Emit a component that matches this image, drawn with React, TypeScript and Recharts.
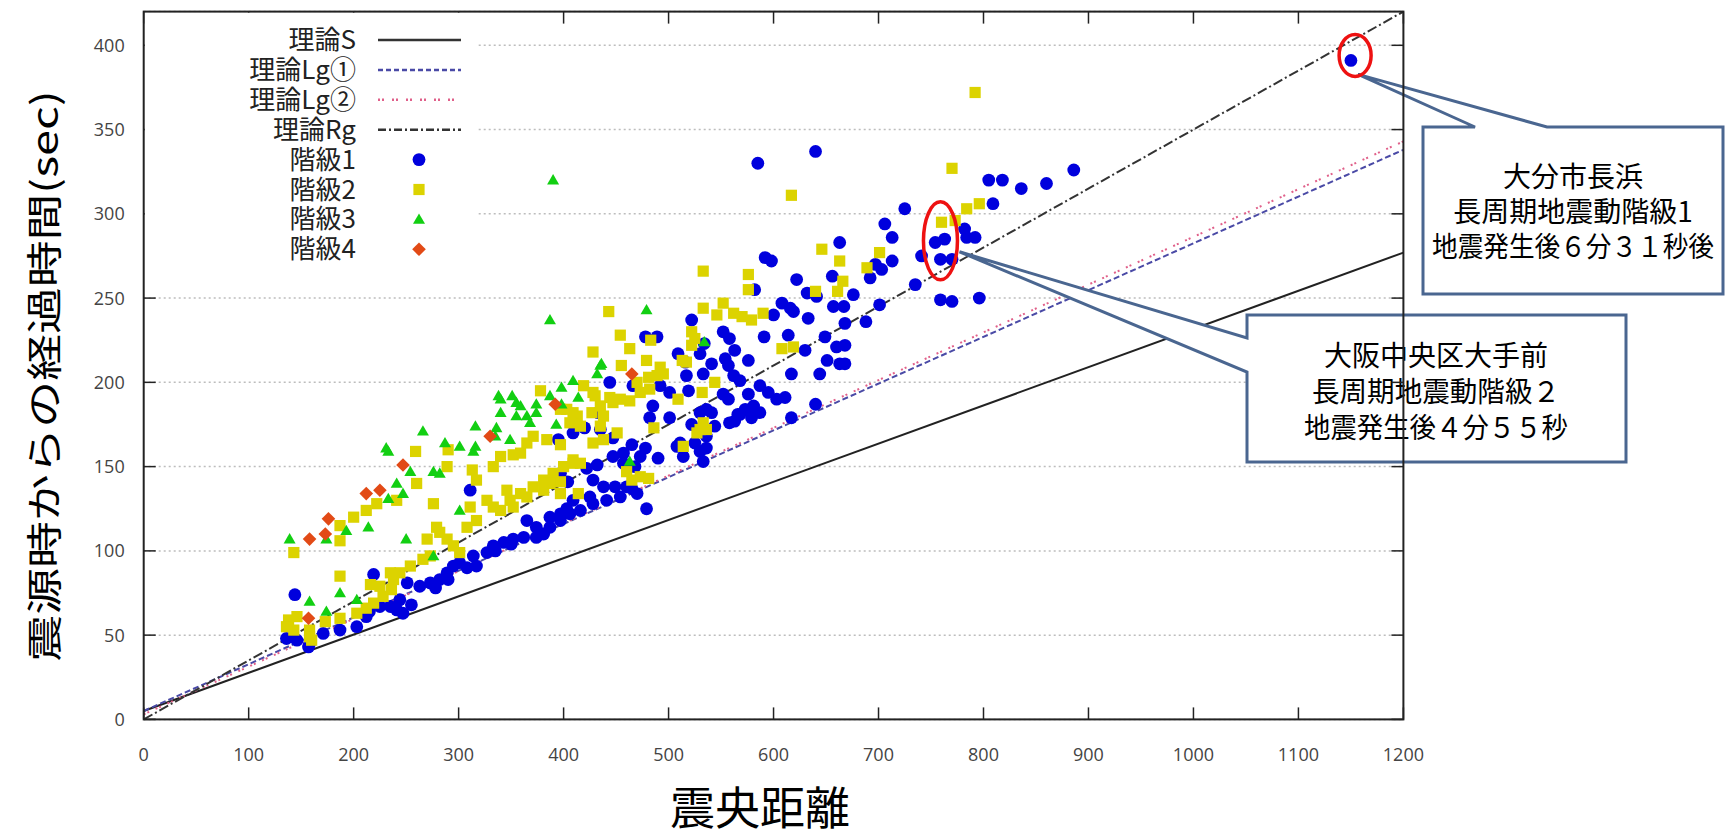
import React from 'react';
import { ScatterChart, Scatter, XAxis, YAxis, CartesianGrid, ReferenceDot } from 'recharts';

// axis ticks
const X_TICKS = [0, 100, 200, 300, 400, 500, 600, 700, 800, 900, 1000, 1100, 1200];
const Y_TICKS = [0, 50, 100, 150, 200, 250, 300, 350, 400];

// theoretical arrival lines [distance, seconds]
const THEORY_S = [[0, 5], [1200, 277]];
const THEORY_LG1 = [[0, 5], [1200, 338]];
const THEORY_LG2 = [[0, 3], [1200, 343]];
const THEORY_RG = [[0, 0], [1200, 420]];

// observed points [distance, seconds]
const CLASS1 = [
  [1150, 391], [886, 326], [805, 320], [818, 320], [836, 315], [860, 318], [809, 306], [725, 303], [782, 291], [792, 286],
  [784, 286], [754, 283], [763, 285], [741, 275], [759, 273], [770, 273], [735, 258], [759, 249], [770, 248], [796, 250],
  [585, 330], [640, 337], [706, 294], [713, 286], [663, 283], [592, 274], [598, 272], [713, 272], [697, 270], [703, 267],
  [692, 262], [622, 261], [656, 263], [582, 255], [632, 253], [641, 251], [676, 252], [701, 246], [657, 245], [667, 245],
  [608, 247], [616, 244], [619, 242], [633, 238], [522, 237], [600, 240], [668, 235], [688, 236], [478, 227], [489, 227],
  [552, 230], [558, 226], [563, 219], [591, 227], [614, 228], [649, 227], [668, 222], [660, 221], [630, 219], [534, 223],
  [509, 217], [516, 212], [530, 217], [541, 211], [533, 205], [554, 214], [557, 210], [576, 213], [651, 213], [663, 211],
  [668, 211], [617, 205], [644, 205], [562, 204], [568, 201], [517, 204], [492, 198], [501, 194], [519, 195], [536, 184],
  [541, 182], [530, 182], [552, 193], [557, 190], [576, 193], [587, 198], [595, 194], [603, 190], [611, 191], [573, 184],
  [566, 181], [563, 177], [579, 179], [587, 182], [617, 179], [640, 187], [485, 186], [482, 179], [501, 179], [522, 175],
  [544, 174], [558, 176], [568, 181], [581, 186], [536, 168], [444, 200], [466, 198], [420, 173], [447, 167], [435, 172],
  [433, 182], [395, 166], [409, 170], [465, 163], [478, 161], [473, 156], [490, 155], [508, 162], [511, 164], [525, 164],
  [530, 159], [533, 153], [536, 161], [447, 156], [457, 158], [457, 152], [468, 150], [432, 151], [422, 149], [514, 156],
  [428, 142], [438, 138], [449, 138], [465, 137], [470, 134], [397, 146], [404, 141], [409, 130], [403, 125], [416, 124],
  [397, 122], [479, 125], [460, 138], [454, 132], [441, 130], [428, 128], [406, 122], [397, 118], [387, 114], [381, 110],
  [393, 142], [425, 132], [387, 120], [374, 114], [365, 118], [374, 108], [362, 108], [352, 107], [343, 105], [333, 103],
  [327, 99], [314, 97], [301, 93], [317, 91], [308, 90], [295, 91], [289, 87], [282, 83], [273, 81], [263, 79],
  [251, 81], [244, 71], [241, 65], [247, 63], [235, 67], [225, 67], [144, 74], [136, 48], [146, 47], [157, 43],
  [171, 51], [187, 53], [203, 55], [212, 61], [158, 45], [219, 86], [311, 136], [215, 64], [255, 68], [278, 78],
  [290, 83], [335, 100], [350, 104],
];
const CLASS2 = [
  [792, 372], [770, 327], [784, 303], [796, 306], [760, 295], [773, 296], [617, 311], [646, 279], [701, 277], [663, 272],
  [689, 268], [533, 266], [576, 264], [666, 260], [576, 255], [661, 254], [640, 254], [562, 241], [570, 239], [579, 237],
  [590, 241], [533, 244], [552, 247], [546, 240], [443, 242], [454, 228], [463, 220], [428, 218], [483, 225], [522, 230],
  [525, 226], [522, 222], [608, 220], [619, 221], [479, 213], [492, 209], [489, 204], [495, 205], [517, 212], [513, 213],
  [544, 200], [470, 200], [481, 203], [532, 194], [509, 190], [428, 194], [444, 191], [454, 190], [435, 186], [427, 182],
  [473, 194], [482, 196], [533, 176], [527, 170], [536, 172], [486, 173], [435, 174], [428, 164], [514, 162], [460, 147],
  [473, 144], [481, 143], [465, 142], [409, 154], [400, 150], [414, 134], [397, 141], [455, 210], [419, 198], [430, 192],
  [378, 195], [403, 184], [413, 180], [438, 180], [447, 188], [451, 170], [397, 184], [409, 182], [463, 189], [259, 159],
  [290, 160], [371, 168], [384, 166], [397, 163], [406, 176], [416, 174], [438, 166], [530, 172], [273, 97], [270, 107],
  [279, 114], [282, 111], [289, 107], [295, 103], [301, 99], [308, 114], [317, 118], [333, 126], [340, 124], [349, 130],
  [359, 134], [371, 138], [381, 142], [390, 146], [409, 152], [416, 152], [387, 140], [381, 136], [397, 134], [365, 132],
  [352, 126], [327, 130], [346, 136], [276, 128], [311, 126], [212, 124], [200, 120], [187, 115], [222, 128], [241, 130],
  [260, 140], [289, 150], [313, 148], [317, 142], [333, 150], [340, 156], [352, 157], [365, 164], [359, 158], [138, 59],
  [143, 53], [158, 53], [158, 49], [146, 61], [173, 58], [187, 60], [203, 63], [212, 66], [219, 69], [228, 73],
  [236, 77], [238, 83], [244, 87], [254, 91], [266, 95], [187, 85], [216, 80], [225, 79], [235, 87], [187, 106],
  [143, 99], [136, 55], [160, 47],
];
const CLASS3 = [
  [390, 320], [387, 237], [479, 243], [534, 224], [435, 210], [409, 201], [432, 205], [398, 197], [414, 191], [436, 211],
  [340, 190], [355, 188], [374, 187], [340, 182], [365, 180], [374, 182], [266, 171], [316, 174], [336, 173], [335, 168],
  [233, 159], [287, 164], [301, 162], [314, 159], [463, 153], [338, 192], [351, 192], [359, 186], [387, 192], [398, 187],
  [355, 180], [393, 175], [368, 176], [316, 162], [349, 166], [231, 161], [250, 107], [276, 97], [301, 124], [214, 114],
  [193, 112], [174, 107], [139, 107], [247, 134], [233, 131], [254, 147], [241, 140], [276, 147], [282, 146], [158, 70],
  [174, 64], [187, 75], [203, 71],
];
const CLASS4 = [
  [158, 107], [173, 110], [176, 119], [212, 134], [225, 136], [247, 151], [330, 168], [392, 187], [465, 205], [157, 60],
];

const toXY = (arr: number[][]) => arr.map(([x, y]) => ({ x, y }));

// layout
const W = 1733;
const H = 837;
const LEFT = 143.7;
const RIGHT = 1403.4;
const TOP = 11.6;
const BOTTOM = 719.4;
const FRAME = '#222';
const JP = '"Noto Sans CJK JP", "Noto Sans", sans-serif';
const NUM = '"Open Sans", "Noto Sans", sans-serif';

const COLORS = { c1: '#0000dd', c2: '#dcd300', c3: '#12cf12', c4: '#e24a16' };

const Marker = ({ kind, cx, cy }: { kind: string; cx: number; cy: number }) => {
  if (kind === 'c1') return <circle cx={cx} cy={cy} r={6.4} fill={COLORS.c1} />;
  if (kind === 'c2') return <rect x={cx - 5.6} y={cy - 5.6} width={11.2} height={11.2} fill={COLORS.c2} />;
  if (kind === 'c3')
    return <polygon points={`${cx},${cy - 6} ${cx + 6},${cy + 4.3} ${cx - 6},${cy + 4.3}`} fill={COLORS.c3} />;
  return <polygon points={`${cx},${cy - 6.8} ${cx + 6.8},${cy} ${cx},${cy + 6.8} ${cx - 6.8},${cy}`} fill={COLORS.c4} />;
};

const shapeFor = (kind: string) => (p: any) => <Marker kind={kind} cx={p.cx} cy={p.cy} />;
const noShape = () => <g />;

const XTick = ({ x, payload }: any) => (
  <g>
    <line x1={x} x2={x} y1={BOTTOM} y2={BOTTOM - 12} stroke={FRAME} strokeWidth={1.5} />
    <line x1={x} x2={x} y1={TOP} y2={TOP + 12} stroke={FRAME} strokeWidth={1.5} />
    <text x={x} y={BOTTOM + 42} textAnchor="middle" fontSize={18} fontFamily={NUM} fill="#444">
      {payload.value}
    </text>
  </g>
);

const YTick = ({ y, payload }: any) => (
  <g>
    <line x1={LEFT} x2={LEFT + 12} y1={y} y2={y} stroke={FRAME} strokeWidth={1.5} />
    <line x1={RIGHT - 12} x2={RIGHT} y1={y} y2={y} stroke={FRAME} strokeWidth={1.5} />
    <text x={LEFT - 19} y={y + 6.5} textAnchor="end" fontSize={18} fontFamily={NUM} fill="#444">
      {payload.value}
    </text>
  </g>
);

const BUBBLE = '#4a6690';

// callout anchored on the ringed station (ellipse centre in data units)
const CALLOUT_OITA = { x: 1154, y: 394 };
const CALLOUT_OSAKA = { x: 759, y: 284 };

const OitaShape = ({ cx, cy }: any) => {
  const tx = cx + 3;
  const ty = cy + 19;
  return (
    <g>
      <path
        d={`M1423,127 L1475,127 L${tx},${ty} L1547,127 L1723,127 L1723,294 L1423,294 Z`}
        fill="#fff"
        stroke={BUBBLE}
        strokeWidth={3}
      />
      <g fontFamily={JP} fontSize={28} fill="#000" textAnchor="middle">
        <text x={1573} y={187}>大分市長浜</text>
        <text x={1573} y={222}>長周期地震動階級1</text>
        <text x={1573} y={257} textLength={282} lengthAdjust="spacingAndGlyphs">地震発生後６分３１秒後</text>
      </g>
      <ellipse cx={cx} cy={cy} rx={16} ry={21} fill="none" stroke="#ee1111" strokeWidth={3.5} />
    </g>
  );
};

const OsakaShape = ({ cx, cy }: any) => {
  const tx = cx + 19;
  const ty = cy + 11;
  return (
    <g>
      <path
        d={`M1247,338 L1247,315 L1626,315 L1626,462 L1247,462 L1247,372 L${tx},${ty} Z`}
        fill="#fff"
        stroke={BUBBLE}
        strokeWidth={3}
      />
      <g fontFamily={JP} fontSize={28} fill="#000" textAnchor="middle">
        <text x={1436} y={366}>大阪中央区大手前</text>
        <text x={1436} y={402} textLength={248} lengthAdjust="spacingAndGlyphs">長周期地震動階級２</text>
        <text x={1436} y={438} textLength={264} lengthAdjust="spacingAndGlyphs">地震発生後４分５５秒</text>
      </g>
      <ellipse cx={cx} cy={cy} rx={17} ry={39} fill="none" stroke="#ee1111" strokeWidth={3.5} />
    </g>
  );
};

const LEGEND_ROWS = [
  { label: '理論S', line: { stroke: '#333', dash: undefined } },
  { label: '理論Lg①', line: { stroke: '#4a4aa6', dash: '5 3' } },
  { label: '理論Lg②', line: { stroke: '#e0608a', dash: '2 2 2 8' } },
  { label: '理論Rg', line: { stroke: '#333', dash: '8 3 2 3' } },
  { label: '階級1', marker: 'c1' },
  { label: '階級2', marker: 'c2' },
  { label: '階級3', marker: 'c3' },
  { label: '階級4', marker: 'c4' },
];

const Overlay = () => (
  <svg width={W} height={H} style={{ position: 'absolute', left: 0, top: 0, pointerEvents: 'none' }}>
    <rect x={LEFT + 1} y={TOP + 1} width={332} height={256} fill="#fff" />
    {LEGEND_ROWS.map((r: any, i) => {
      const y = 40 + i * 29.9;
      return (
        <g key={r.label}>
          <text x={356} y={y + 9} textAnchor="end" fontFamily={JP} fontSize={26} fill="#222">
            {r.label}
          </text>
          {r.line ? (
            <line x1={378} x2={461} y1={y} y2={y} stroke={r.line.stroke} strokeWidth={2.5} strokeDasharray={r.line.dash} />
          ) : (
            <Marker kind={r.marker} cx={419} cy={y} />
          )}
        </g>
      );
    })}
    <rect x={LEFT} y={TOP} width={RIGHT - LEFT} height={BOTTOM - TOP} fill="none" stroke={FRAME} strokeWidth={2} />
    <text
      transform="translate(42,376) rotate(-90) scale(1.3,1)"
      textAnchor="middle"
      dominantBaseline="central"
      fontFamily={JP}
      fontSize={36}
      fill="#000"
    >
      震源時からの経過時間(sec)
    </text>
    <text x={760} y={825} textAnchor="middle" fontFamily={JP} fontSize={45} fill="#000">
      震央距離
    </text>
  </svg>
);

export default function App() {
  return (
    <div style={{ position: 'absolute', left: 0, top: 0, width: W, height: H, background: '#fff' }}>
      <ScatterChart
        width={W}
        height={H}
        margin={{ top: TOP, right: W - RIGHT, bottom: H - BOTTOM - 40, left: LEFT - 60 }}
      >
        <CartesianGrid horizontal vertical={false} stroke="#bdbdbd" strokeDasharray="2 3" strokeWidth={1.5} />
        <XAxis
          type="number"
          dataKey="x"
          domain={[0, 1200]}
          ticks={X_TICKS}
          height={40}
          axisLine={false}
          tickLine={false}
          tick={<XTick />}
          interval={0}
        />
        <YAxis
          type="number"
          dataKey="y"
          domain={[0, 420]}
          ticks={Y_TICKS}
          width={60}
          axisLine={false}
          tickLine={false}
          tick={<YTick />}
          interval={0}
        />
        <Scatter name="理論S" data={toXY(THEORY_S)} shape={noShape} line={{ stroke: '#222', strokeWidth: 2 }} isAnimationActive={false} />
        <Scatter name="理論Lg①" data={toXY(THEORY_LG1)} shape={noShape} line={{ stroke: '#4a4aa6', strokeWidth: 2, strokeDasharray: '6 3' }} isAnimationActive={false} />
        <Scatter name="理論Lg②" data={toXY(THEORY_LG2)} shape={noShape} line={{ stroke: '#e0608a', strokeWidth: 2, strokeDasharray: '2 2 2 7' }} isAnimationActive={false} />
        <Scatter name="理論Rg" data={toXY(THEORY_RG)} shape={noShape} line={{ stroke: '#333', strokeWidth: 2, strokeDasharray: '10 3 2 3' }} isAnimationActive={false} />
        <Scatter name="階級1" data={toXY(CLASS1)} shape={shapeFor('c1')} isAnimationActive={false} />
        <Scatter name="階級2" data={toXY(CLASS2)} shape={shapeFor('c2')} isAnimationActive={false} />
        <Scatter name="階級3" data={toXY(CLASS3)} shape={shapeFor('c3')} isAnimationActive={false} />
        <Scatter name="階級4" data={toXY(CLASS4)} shape={shapeFor('c4')} isAnimationActive={false} />
        <ReferenceDot x={CALLOUT_OITA.x} y={CALLOUT_OITA.y} r={1} ifOverflow="visible" shape={<OitaShape />} />
        <ReferenceDot x={CALLOUT_OSAKA.x} y={CALLOUT_OSAKA.y} r={1} ifOverflow="visible" shape={<OsakaShape />} />
      </ScatterChart>
      <Overlay />
    </div>
  );
}
